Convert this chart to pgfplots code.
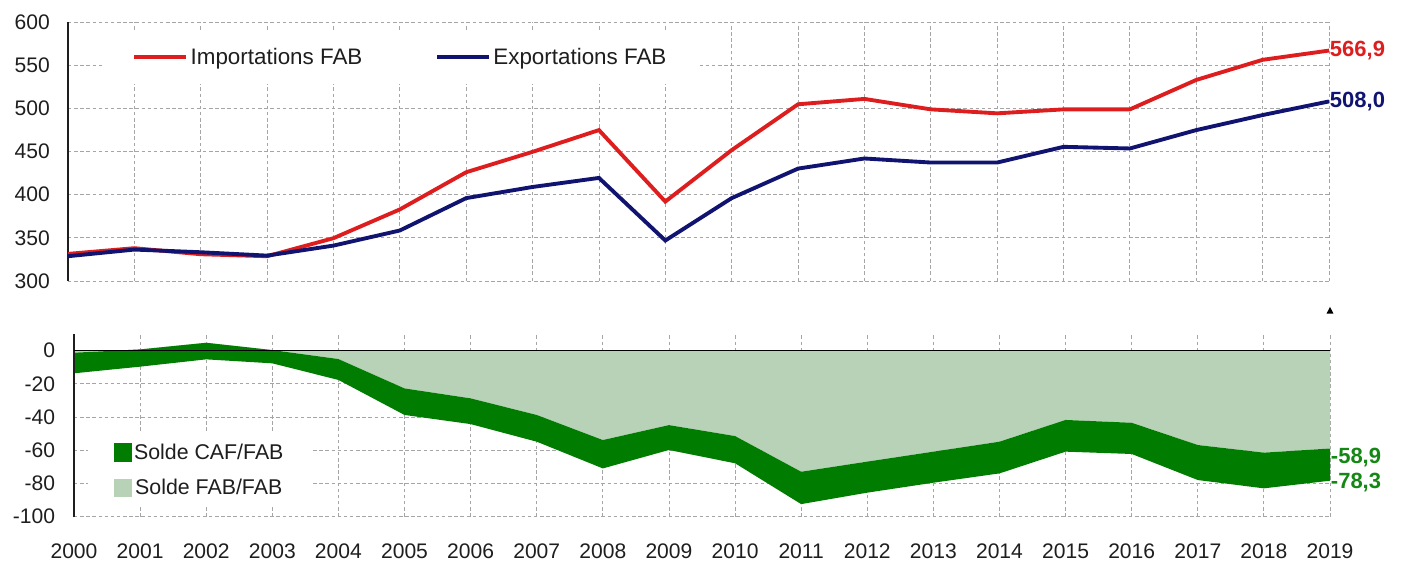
\documentclass[border=0pt]{standalone}
\usepackage{fontspec}
\setmainfont{Liberation Sans}
\usepackage{pgfplots}
\usepackage{pgfplotstable}
\pgfplotsset{compat=1.18}
\usepgfplotslibrary{fillbetween}

\definecolor{impred}{RGB}{222,30,30}
\definecolor{expblue}{RGB}{16,20,112}
\definecolor{bandgreen}{RGB}{0,125,0}
\definecolor{lightgreen}{RGB}{184,210,184}
\definecolor{labelgreen}{RGB}{20,135,20}
\definecolor{txt}{RGB}{30,30,30}
\definecolor{gridc}{RGB}{165,165,165}

\pgfplotstableread{
year imp exp
2000 331.4 328.7
2001 338.0 336.4
2002 331.0 333.3
2003 328.7 329.4
2004 349.6 341.0
2005 382.9 358.5
2006 426.0 396.0
2007 449.6 408.9
2008 474.8 419.4
2009 392.0 346.9
2010 451.6 396.0
2011 504.7 430.2
2012 510.9 441.9
2013 498.8 437.2
2014 494.2 437.2
2015 498.8 455.4
2016 498.8 453.5
2017 532.9 474.8
2018 556.2 492.2
2019 566.9 508.0
}\tradedata

\pgfplotstableread{
year fab caf
2000 -1.2 -13.6
2001 0.8 -9.6
2002 4.8 -5.2
2003 0.4 -7.6
2004 -5.0 -17.6
2005 -22.7 -38.7
2006 -28.7 -44.2
2007 -38.7 -54.8
2008 -53.8 -70.9
2009 -44.8 -59.8
2010 -51.4 -67.8
2011 -72.9 -92.4
2012 -66.8 -85.5
2013 -60.8 -79.5
2014 -54.8 -73.9
2015 -41.7 -60.8
2016 -43.4 -62.2
2017 -56.8 -77.9
2018 -61.4 -82.9
2019 -58.9 -78.3
}\soldedata

\pgfplotsset{
  common/.style={
    scale only axis, anchor=south west, clip=false,
    xmin=2000, xmax=2019,
    xtick={2000,2001,...,2019},
    axis line style={draw=none},
    major tick length=0pt,
    tick style={draw=none},
    grid=major,
    major grid style={gridc, dash pattern=on 2.6pt off 2pt, line width=0.65pt},
    /pgf/number format/assume math mode=true,
    tick label style={font=\fontsize{15.8}{18}\selectfont, text=txt},
  }
}

\begin{document}
\begin{tikzpicture}

% ---------- upper chart ----------
\begin{axis}[common,
  at={(51pt,211.5pt)}, width=945.75pt, height=194.25pt,
  ymin=300, ymax=600,
  ytick={300,350,...,600},
  yticklabels={300,350,400,450,500,550,600},
  xticklabels={},
  yticklabel style={anchor=east, inner sep=0pt, xshift=-13.5pt},
  legend columns=2,
  legend style={at={(rel axis cs:0.0265,0.864)}, anchor=west,
    fill=white, draw=none, inner xsep=23pt, inner ysep=13pt,
    font=\fontsize{16.8}{19}\selectfont, text=txt,
    nodes={inner xsep=1.5pt, inner ysep=0pt},
    /tikz/every even column/.append style={column sep=53pt}},
  legend image code/.code={\draw[#1, line width=3.2pt] (0pt,0pt) -- (39pt,0pt);},
]
\draw[txt, line width=0.9pt] (rel axis cs:0,0) -- (rel axis cs:0,1);
\addplot[impred, line width=2.9pt] table[x=year, y=imp] {\tradedata};
\addlegendentry{Importations FAB}
\addplot[expblue, line width=2.9pt] table[x=year, y=exp] {\tradedata};
\addlegendentry{Exportations FAB}
\node[anchor=west, inner sep=0.5pt, text=impred, font=\bfseries\fontsize{16.5}{19}\selectfont] at (axis cs:2019,566.9) {566,9};
\node[anchor=west, inner sep=0.5pt, text=expblue, font=\bfseries\fontsize{16.5}{19}\selectfont] at (axis cs:2019,508.0) {508,0};
\end{axis}

% ---------- lower chart ----------
\begin{axis}[common,
  at={(55.5pt,34.7pt)}, width=942pt, height=136.95pt,
  ymin=-100, ymax=10,
  ytick={-100,-80,...,0},
  yticklabels={-100,-80,-60,-40,-20,0},
  xticklabels={2000,2001,2002,2003,2004,2005,2006,2007,2008,2009,2010,2011,2012,2013,2014,2015,2016,2017,2018,2019},
  yticklabel style={anchor=east, inner sep=0pt, xshift=-14pt},
  xticklabel style={anchor=north, inner sep=0pt, yshift=-20pt},
  legend columns=1,
  legend style={at={(rel axis cs:0.0111,0.256)}, anchor=west,
    fill=white, draw=none, inner xsep=19pt, inner ysep=7pt, row sep=13pt,
    font=\fontsize{16}{19}\selectfont, text=txt,
    nodes={inner xsep=2pt, inner ysep=0pt}},
  legend image code/.code={\fill[#1] (0pt,-6.5pt) rectangle (13pt,6.5pt);},
]
\draw[txt, line width=0.9pt] (rel axis cs:0,0) -- (rel axis cs:0,1);
\addplot[name path=zero, draw=none, forget plot] coordinates {(2000,0) (2019,0)};
\addplot[name path=fab, draw=none, forget plot] table[x=year, y=fab] {\soldedata};
\addplot[name path=caf, draw=none, forget plot] table[x=year, y=caf] {\soldedata};
\addplot[lightgreen, forget plot] fill between[of=zero and fab];
\addplot[black, line width=0.8pt, forget plot] coordinates {(2000,0) (2019,0)};
\addplot[bandgreen, forget plot] fill between[of=fab and caf];
\addlegendimage{bandgreen}
\addlegendentry{Solde CAF/FAB}
\addlegendimage{lightgreen}
\addlegendentry{Solde FAB/FAB}
\node[anchor=west, inner sep=0.5pt, text=labelgreen, font=\bfseries\fontsize{16.5}{19}\selectfont, yshift=-6.4pt] at (axis cs:2019,-58.9) {-58,9};
\node[anchor=west, inner sep=0.5pt, text=labelgreen, font=\bfseries\fontsize{16.5}{19}\selectfont, yshift=-1.2pt] at (axis cs:2019,-78.3) {-78,3};
\fill[black] (axis cs:2019,24) ++(-2.6pt,-2pt) -- ++(5.2pt,0pt) -- ++(-2.6pt,5pt) -- cycle;
\end{axis}

\pgfresetboundingbox
\path[use as bounding box] (0,0) rectangle (1053.75pt,422.25pt);
\end{tikzpicture}
\end{document}
